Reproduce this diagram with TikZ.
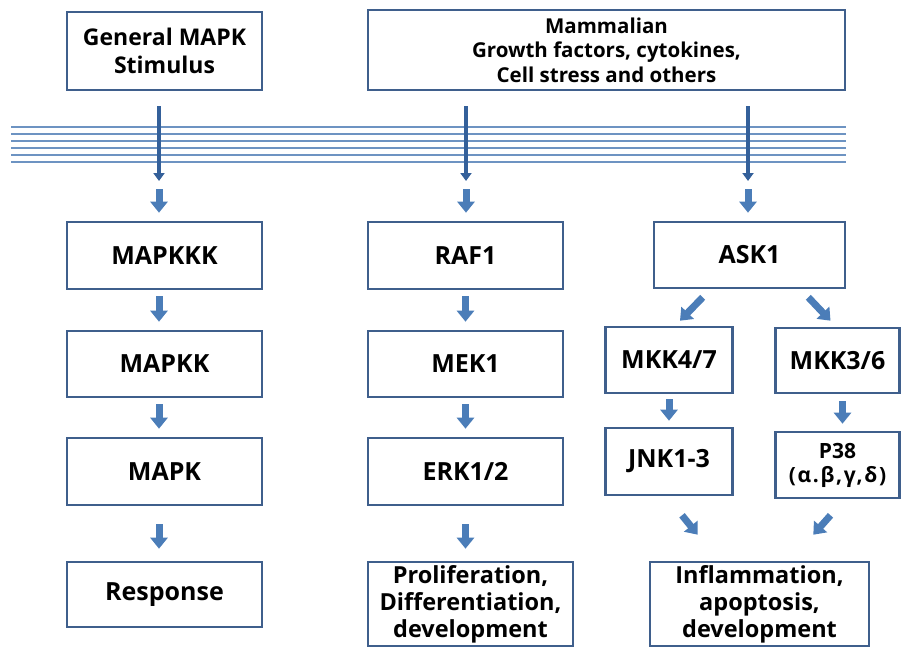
\documentclass[tikz,border=0pt]{standalone}
\usepackage{fontspec}
\setmainfont{Open Sans}
\usetikzlibrary{arrows.meta,calc}
\definecolor{boxline}{HTML}{3F5F8C}
\definecolor{arrfill}{HTML}{4B7DB8}
\definecolor{arrdark}{HTML}{34609A}
\definecolor{memb}{HTML}{6D93C2}
\tikzset{
  box/.style={draw=boxline, line width=2.6pt, fill=white, align=center, inner sep=2pt,
    font=\bfseries\fontsize{23.5}{27}\selectfont},
  single/.style={font=\bfseries\fontsize{25}{28}\selectfont},
  barrow/.style={line width=7pt, draw=arrfill, -{Triangle[width=17pt,length=11pt]}},
  larrow/.style={line width=3.5pt, draw=arrdark, -{Triangle[width=11pt,length=8pt]}},
  membline/.style={draw=memb, line width=1.1pt}
}
\begin{document}
\begin{tikzpicture}[x=1pt,y=-1pt]
\useasboundingbox (0,0) rectangle (901,650);
% membrane
\foreach \yy in {127,134,141,148,155,162}{
  \draw[membline] (11,\yy) -- (846,\yy);
}
% top boxes
\node[box, minimum width=195pt, minimum height=78pt, font=\bfseries\fontsize{23}{27.5}\selectfont] (stim) at (164.5,51) {General MAPK\\Stimulus};
\node[box, minimum width=477pt, minimum height=80pt, font=\bfseries\fontsize{20.5}{24.5}\selectfont] (mam) at (606.5,50) {Mammalian\\Growth factors, cytokines,\\Cell stress and others};
% column 1
\node[box, single, minimum width=195pt, minimum height=67pt] (mapkkk) at (164.5,255.5) {MAPKKK};
\node[box, single, minimum width=195pt, minimum height=66pt] (mapkk) at (164.5,364) {MAPKK};
\node[box, single, minimum width=195pt, minimum height=67pt] (mapk) at (164.5,471.5) {MAPK};
\node[box, single, minimum width=195pt, minimum height=65pt] (resp) at (164.5,594.5) {Response};
% column 2
\node[box, single, minimum width=195pt, minimum height=67pt] (raf) at (465.5,255.5) {RAF1};
\node[box, single, minimum width=195pt, minimum height=66pt] (mek) at (465.5,364) {MEK1};
\node[box, single, minimum width=195pt, minimum height=67pt] (erk) at (465.5,471.5) {ERK1/2};
\node[box, minimum width=205pt, minimum height=84pt] (prol) at (470.5,604) {Proliferation,\\Differentiation,\\development};
% column 3
\node[box, single, minimum width=191pt, minimum height=66pt] (ask) at (749.5,255) {ASK1};
\node[box, single, minimum width=127pt, minimum height=66pt] (mkk47) at (669,360) {MKK4/7};
\node[box, single, minimum width=124pt, minimum height=65pt] (mkk36) at (837.5,360.5) {MKK3/6};
\node[box, single, minimum width=127pt, minimum height=67pt] (jnk) at (669,461.5) {JNK1-3};
\node[box, minimum width=124pt, minimum height=66pt, font=\bfseries\fontsize{21}{24}\selectfont] (p38) at (837.5,465) {P38\\\addfontfeatures{LetterSpace=8}(α.β,γ,δ)};
\node[box, minimum width=219pt, minimum height=84pt] (infl) at (759.5,604) {Inflammation,\\apoptosis,\\development};
% coordinates below membrane
\coordinate (c1) at (159,181);
\coordinate (c2) at (466,181);
\coordinate (c3) at (748,181);
% long arrows
\draw[larrow, shorten <=15pt] (stim.south -| c1) -- (c1);
\draw[larrow, shorten <=15pt] (mam.south -| c2) -- (c2);
\draw[larrow, shorten <=15pt] (mam.south -| c3) -- (c3);
% short block arrows from membrane
\draw[barrow, shorten <=8pt, shorten >=8pt] (c1) -- (mapkkk.north -| c1);
\draw[barrow, shorten <=8pt, shorten >=8pt] (c2) -- (raf.north -| c2);
\draw[barrow, shorten <=8pt, shorten >=8pt] (c3) -- (ask.north -| c3);
% vertical block arrows
\foreach \a/\b in {mapkkk/mapkk, mapkk/mapk}{
  \draw[barrow, shorten <=6pt, shorten >=8pt] ([xshift=-5.5pt]\a.south) -- ([xshift=-5.5pt]\b.north);
}
\foreach \a/\b in {raf/mek, mek/erk}{
  \draw[barrow, shorten <=6pt, shorten >=8pt] (\a.south) -- (\b.north);
}
\draw[barrow, shorten <=18pt, shorten >=12pt] ([xshift=-5.5pt]mapk.south) -- ([xshift=-5.5pt]resp.north);
\draw[barrow, shorten <=18pt, shorten >=12pt] (erk.south) -- (erk.south |- prol.north);
\draw[barrow, shorten <=5pt, shorten >=6pt] (mkk47.south) -- (jnk.north);
\draw[barrow, shorten <=7pt, shorten >=7pt] ([xshift=5pt]mkk36.south) -- ([xshift=5pt]p38.north);
% diagonal block arrows
\draw[barrow] ($(ask.south west)+(50,8)$) -- ($(mkk47.north)+(11,-5)$);
\draw[barrow] ($(ask.south east)+(-38,8)$) -- ($(mkk36.north)+(-7,-6)$);
\draw[barrow] ($(jnk.south)+(13,19)$) -- ($(infl.north west)+(49,-26)$);
\draw[barrow] ($(p38.south)+(-7,16)$) -- ($(infl.north east)+(-57,-26)$);
\end{tikzpicture}
\end{document}
